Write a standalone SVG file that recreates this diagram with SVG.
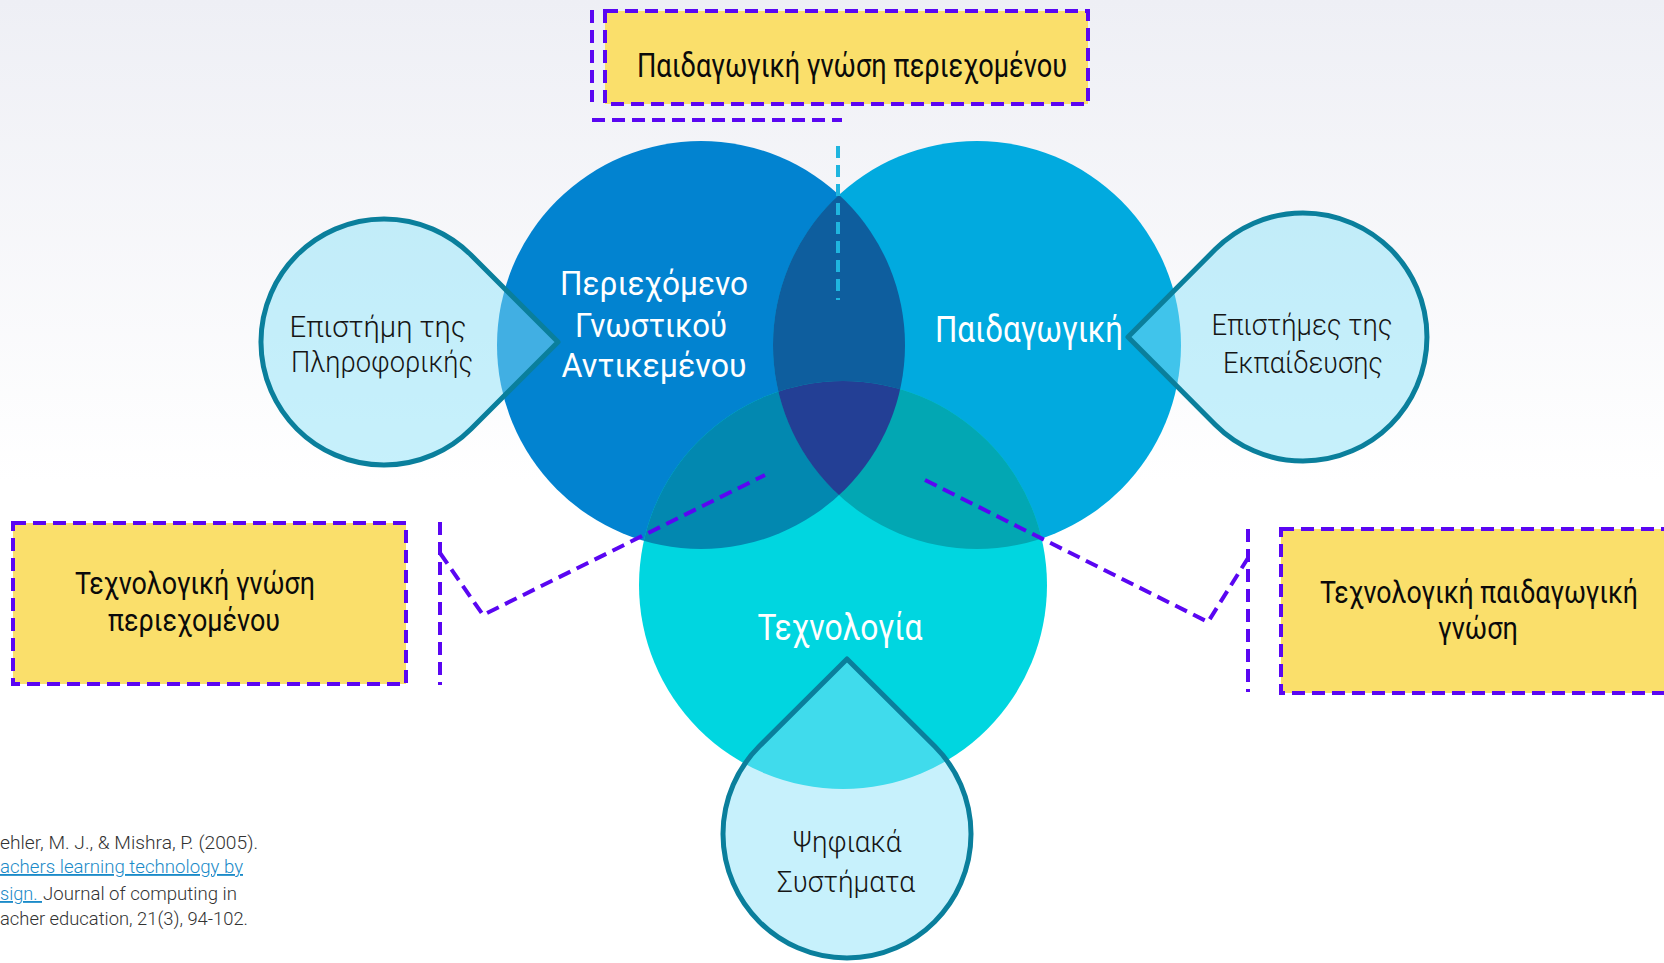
<svg xmlns="http://www.w3.org/2000/svg" width="1664" height="963" viewBox="0 0 1664 963">
  <defs>
    <linearGradient id="bg" x1="0" y1="0" x2="0" y2="1">
      <stop offset="0" stop-color="#EEEFF5"/>
      <stop offset="0.5" stop-color="#FFFFFF"/>
      <stop offset="1" stop-color="#FFFFFF"/>
    </linearGradient>
    <clipPath id="cL"><circle cx="701" cy="345" r="204"/></clipPath>
    <clipPath id="cR"><circle cx="977" cy="345" r="204"/></clipPath>
    <clipPath id="cB"><circle cx="843" cy="585" r="204"/></clipPath>
    <style>
      .main { font-family: Roboto, "Liberation Sans", sans-serif; font-weight: 400; fill: #FFFFFF; text-anchor: middle; }
      .drop { fill: rgb(135,225,248); fill-opacity: 0.47; stroke: #0A7F9C; stroke-width: 5; stroke-linejoin: round; }
      .dlabel { font-family: Roboto, "Liberation Sans", sans-serif; font-weight: 300; font-size: 30px; fill: #151515; text-anchor: middle; }
      .box { fill: #FADF6B; stroke: #5A06F2; stroke-width: 4; stroke-dasharray: 13 7; }
      .blabel { font-family: Roboto, "Liberation Sans", sans-serif; fill: #0A0A0A; text-anchor: middle; }
      .dash { fill: none; stroke: #5A06F2; stroke-width: 4; stroke-dasharray: 13 7; }
      .ref { font-family: Roboto, "Liberation Sans", sans-serif; font-weight: 300; font-size: 18.5px; fill: #333333; }
      .link { fill: #1A8AC8; text-decoration: underline; }
    </style>
  </defs>

  <rect x="0" y="0" width="1664" height="963" fill="url(#bg)"/>

  <!-- Venn circles -->
  <g id="circle-content">
    <circle cx="701" cy="345" r="204" fill="#0283D0"/>
  </g>
  <g id="circle-pedagogy">
    <circle cx="977" cy="345" r="204" fill="#01AADF"/>
  </g>
  <g id="circle-technology">
    <circle cx="843" cy="585" r="204" fill="#00D6E0"/>
  </g>
  <g id="overlaps">
    <circle cx="977" cy="345" r="204" fill="#0E5E9E" clip-path="url(#cL)"/>
    <circle cx="843" cy="585" r="204" fill="#0288B0" clip-path="url(#cL)"/>
    <circle cx="843" cy="585" r="204" fill="#02A7B3" clip-path="url(#cR)"/>
    <g clip-path="url(#cL)">
      <circle cx="843" cy="585" r="204" fill="#233F95" clip-path="url(#cR)"/>
    </g>
  </g>

  <!-- Teardrops -->
  <g id="drop-informatics">
    <path class="drop" d="M558,342 L471,255 A123,123 0 1 0 471,429 Z"/>
    <text class="dlabel" x="378" y="337" textLength="177" lengthAdjust="spacingAndGlyphs">Επιστήμη της</text>
    <text class="dlabel" x="382" y="372" textLength="182" lengthAdjust="spacingAndGlyphs">Πληροφορικής</text>
  </g>
  <g id="drop-education">
    <path class="drop" d="M1128,337 L1215.3,249.3 A124,124 0 1 1 1215.3,424.7 Z"/>
    <text class="dlabel" x="1302" y="335" textLength="181" lengthAdjust="spacingAndGlyphs">Επιστήμες της</text>
    <text class="dlabel" x="1303" y="373" textLength="160" lengthAdjust="spacingAndGlyphs">Εκπαίδευσης</text>
  </g>
  <g id="drop-digital">
    <path class="drop" d="M847,659 L934.7,746.3 A124,124 0 1 1 759.3,746.3 Z"/>
    <text class="dlabel" x="847" y="852" textLength="109" lengthAdjust="spacingAndGlyphs">Ψηφιακά</text>
    <text class="dlabel" x="846" y="892" textLength="138" lengthAdjust="spacingAndGlyphs">Συστήματα</text>
  </g>

  <!-- Circle labels -->
  <g id="label-content">
    <text class="main" x="654" y="295" font-size="34" textLength="188" lengthAdjust="spacingAndGlyphs">Περιεχόμενο</text>
    <text class="main" x="651" y="337" font-size="34" textLength="152" lengthAdjust="spacingAndGlyphs">Γνωστικού</text>
    <text class="main" x="654" y="377" font-size="34" textLength="185" lengthAdjust="spacingAndGlyphs">Αντικεμένου</text>
  </g>
  <g id="label-pedagogy">
    <text class="main" x="1029" y="342" font-size="36" textLength="188" lengthAdjust="spacingAndGlyphs">Παιδαγωγική</text>
  </g>
  <g id="label-technology">
    <text class="main" x="840" y="640" font-size="37" textLength="165" lengthAdjust="spacingAndGlyphs">Τεχνολογία</text>
  </g>

  <!-- Connectors -->
  <g id="connectors">
    <path class="dash" d="M592,10 V102"/>
    <path class="dash" d="M592,120 H842"/>
    <path d="M838,146 V300" fill="none" stroke="#1FB5DF" stroke-width="4" stroke-dasharray="12 7"/>
    <path class="dash" d="M440,522 V685"/>
    <path class="dash" d="M440,553 L483,615 L765,475"/>
    <path class="dash" d="M1248,529 V692"/>
    <path class="dash" d="M925,480 L1208,622 L1248,558"/>
  </g>

  <!-- Yellow boxes -->
  <g id="box-pck">
    <rect class="box" x="605" y="11" width="483" height="93"/>
    <text class="blabel" x="852" y="77" font-size="34" textLength="430" lengthAdjust="spacingAndGlyphs">Παιδαγωγική γνώση περιεχομένου</text>
  </g>
  <g id="box-tck">
    <rect class="box" x="13" y="523" width="393" height="161"/>
    <text class="blabel" x="195" y="594" font-size="31" textLength="240" lengthAdjust="spacingAndGlyphs">Τεχνολογική γνώση</text>
    <text class="blabel" x="194" y="631" font-size="31" textLength="172" lengthAdjust="spacingAndGlyphs">περιεχομένου</text>
  </g>
  <g id="box-tpk">
    <rect class="box" x="1281" y="529" width="430" height="164"/>
    <text class="blabel" x="1479" y="603" font-size="31" textLength="318" lengthAdjust="spacingAndGlyphs">Τεχνολογική παιδαγωγική</text>
    <text class="blabel" x="1478" y="639" font-size="31" textLength="80" lengthAdjust="spacingAndGlyphs">γνώση</text>
  </g>

  <!-- Reference -->
  <g id="reference">
    <text class="ref" x="0" y="849" textLength="258" lengthAdjust="spacingAndGlyphs">ehler, M. J., &amp; Mishra, P. (2005).</text>
    <text class="ref link" x="0" y="873" textLength="243" lengthAdjust="spacingAndGlyphs">achers learning technology by</text>
    <text class="ref link" x="0" y="900" textLength="42" lengthAdjust="spacingAndGlyphs" xml:space="preserve">sign. </text>
    <text class="ref" x="43" y="900" textLength="194" lengthAdjust="spacingAndGlyphs">Journal of computing in</text>
    <text class="ref" x="0" y="925" textLength="248" lengthAdjust="spacingAndGlyphs">acher education, 21(3), 94-102.</text>
  </g>
</svg>
